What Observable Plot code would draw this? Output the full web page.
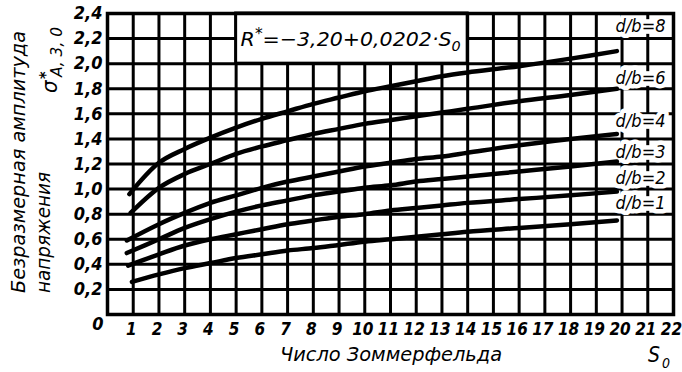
<!DOCTYPE html>
<html>
<head>
<meta charset="utf-8">
<script src="https://cdn.jsdelivr.net/npm/d3@7"></script>
<script src="https://cdn.jsdelivr.net/npm/@observablehq/plot@0.6"></script>
<style>
  html, body { margin: 0; padding: 0; background: #fff; }
  svg text { font-family: "DejaVu Sans Condensed", "DejaVu Sans", sans-serif; font-stretch: condensed; }
</style>
</head>
<body>
<div id="chart"></div>
<script>
// ---- data ----
const series = ["d/b=1", "d/b=2", "d/b=3", "d/b=4", "d/b=6", "d/b=8"];
const startX = [0.95, 0.8, 0.75, 0.75, 0.9, 0.85];
const startY = [0.26, 0.39, 0.49, 0.59, 0.81, 0.96];
const S0 = [2, 3, 4, 5, 6, 7, 8, 9, 10, 11, 12, 13, 14, 16, 18, 19.8];
const db1 = [0.32, 0.37, 0.41, 0.45, 0.48, 0.51, 0.53, 0.555, 0.58, 0.60, 0.62, 0.64, 0.66, 0.69, 0.72, 0.75];
const db2 = [0.48, 0.55, 0.60, 0.64, 0.68, 0.72, 0.75, 0.78, 0.80, 0.83, 0.85, 0.87, 0.89, 0.92, 0.95, 0.98];
const db3 = [0.60, 0.69, 0.76, 0.82, 0.87, 0.91, 0.95, 0.98, 1.01, 1.03, 1.06, 1.08, 1.10, 1.14, 1.18, 1.22];
const db4 = [0.72, 0.81, 0.89, 0.95, 1.01, 1.06, 1.10, 1.14, 1.18, 1.21, 1.24, 1.26, 1.29, 1.35, 1.40, 1.44];
const db6 = [1.01, 1.12, 1.20, 1.28, 1.34, 1.39, 1.44, 1.48, 1.52, 1.55, 1.58, 1.61, 1.64, 1.70, 1.75, 1.80];
const db8 = [1.21, 1.32, 1.41, 1.49, 1.56, 1.62, 1.68, 1.73, 1.78, 1.82, 1.86, 1.90, 1.93, 1.98, 2.04, 2.10];
const labelX = 19.75;
const labelY = [0.89, 1.09, 1.29, 1.54, 1.88, 2.30];
const xTicks = [1, 2, 3, 4, 5, 6, 7, 8, 9, 10, 11, 12, 13, 14, 15, 16, 17, 18, 19, 20, 21, 22];
const yTicks = [0.2, 0.4, 0.6, 0.8, 1.0, 1.2, 1.4, 1.6, 1.8, 2.0, 2.2, 2.4];
const xGrid = [1, 2, 3, 4, 5, 6, 7, 8, 9, 10, 11, 12, 13, 14, 15, 16, 17, 18, 19, 20, 21];
const yGrid = [0.2, 0.4, 0.6, 0.8, 1.0, 1.2, 1.4, 1.6, 1.8, 2.0, 2.2];
const boxX = [5, 14];
const boxY = [2.0, 2.4];

// ---- build tables ----
const values = [db1, db2, db3, db4, db6, db8];
const rows = [];
series.forEach((s, i) => {
  rows.push({series: s, x: startX[i], y: startY[i]});
  S0.forEach((x, j) => rows.push({series: s, x, y: values[i][j]}));
});
const labels = series.map((s, i) => ({text: s, x: labelX, y: labelY[i]}));

const FONT = '"DejaVu Sans Condensed", "DejaVu Sans", sans-serif';

const plot = Plot.plot({
  width: 682,
  height: 372,
  marginLeft: 107,
  marginRight: 9,
  marginTop: 13,
  marginBottom: 58,
  x: {domain: [0, 22]},
  y: {domain: [0, 2.4]},
  style: {fontFamily: FONT, background: "white", color: "black"},
  marks: [
    Plot.ruleX(xGrid, {stroke: "black", strokeWidth: 3}),
    Plot.ruleY(yGrid, {stroke: "black", strokeWidth: 3}),
    Plot.rect([{}], {x1: () => boxX[0], x2: () => boxX[1], y1: () => boxY[0], y2: () => boxY[1],
      fill: "white", stroke: "black", strokeWidth: 3}),
    Plot.text(labels, {x: "x", y: "y", text: "text", textAnchor: "start", lineAnchor: "middle",
      fontSize: 18, fontStyle: "italic", fill: "black", stroke: "white", strokeWidth: 9, strokeLinejoin: "round"}),
    Plot.line(rows, {x: "x", y: "y", z: "series", curve: "catmull-rom",
      stroke: "black", strokeWidth: 4.5, strokeLinecap: "round", strokeLinejoin: "round"}),
    Plot.frame({stroke: "black", strokeWidth: 3.5}),
    Plot.axisX({ticks: xTicks, tickSize: 0, tickPadding: 8, label: null, dx: -2,
      fontSize: 17, fontStyle: "italic", fontWeight: "bold", tickFormat: d => String(d)}),
    Plot.axisY({ticks: yTicks, tickSize: 0, tickPadding: 5, label: null,
      fontSize: 18, fontStyle: "italic", fontWeight: "bold",
      tickFormat: d => d.toFixed(1).replace(".", ",")}),
    Plot.text([{x: 0, y: 0}], {x: "x", y: "y", text: () => "0", textAnchor: "end", lineAnchor: "middle",
      dx: -4, dy: 10, fontSize: 18, fontStyle: "italic", fontWeight: "bold"})
  ]
});

document.getElementById("chart").appendChild(plot);

// ---- extra text (titles, formula) ----
const svg = d3.select(plot);
const xs = plot.scale("x"), ys = plot.scale("y");
const extra = svg.append("g").attr("text-anchor", "start").attr("fill", "black");

// formula in the box
const ft = extra.append("text")
  .attr("x", xs.apply(boxX[0]) + 5)
  .attr("y", ys.apply((boxY[0] + boxY[1]) / 2) + 8)
  .attr("font-size", 20).attr("font-style", "italic")
  .attr("textLength", 220).attr("lengthAdjust", "spacingAndGlyphs");
ft.append("tspan").text("R");
ft.append("tspan").attr("dy", -7).attr("font-size", 15).text("*");
ft.append("tspan").attr("dy", 7).text("=−3,20+0,0202·S");
ft.append("tspan").attr("dy", 5).attr("font-size", 14).text("0");

// y title
extra.append("text")
  .attr("transform", "translate(25,293) rotate(-90)")
  .attr("font-size", 20).attr("font-style", "italic")
  .attr("textLength", 262).attr("lengthAdjust", "spacingAndGlyphs")
  .text("Безразмерная амплитуда");
extra.append("text")
  .attr("transform", "translate(50,293) rotate(-90)")
  .attr("font-size", 20).attr("font-style", "italic")
  .attr("textLength", 121).attr("lengthAdjust", "spacingAndGlyphs")
  .text("напряжения");
const sg = extra.append("g").attr("transform", "translate(57,95) rotate(-90)");
sg.append("text").attr("x", 2).attr("y", 0).attr("font-size", 22).attr("font-style", "italic").text("σ");
sg.append("text").attr("x", 16).attr("y", -6).attr("font-size", 16).attr("font-weight", "bold").text("*");
sg.append("text").attr("x", 18).attr("y", 5).attr("font-size", 15).attr("font-style", "italic")
  .attr("textLength", 50).attr("lengthAdjust", "spacingAndGlyphs").text("A, 3, 0");

// x title
extra.append("text")
  .attr("x", 280).attr("y", 361)
  .attr("font-size", 19).attr("font-style", "italic")
  .attr("textLength", 222).attr("lengthAdjust", "spacingAndGlyphs")
  .text("Число Зоммерфельда");
extra.append("text").attr("x", 648).attr("y", 362).attr("font-size", 21).attr("font-style", "italic").text("S");
extra.append("text").attr("x", 662).attr("y", 368).attr("font-size", 14).attr("font-style", "italic").text("0");
</script>
</body>
</html>
